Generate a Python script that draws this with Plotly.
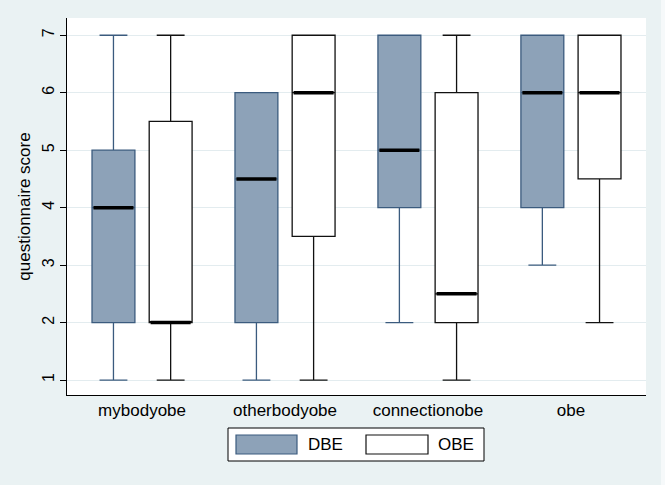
import plotly.graph_objects as go

categories = ["mybodyobe", "otherbodyobe", "connectionobe", "obe"]
series = ["DBE", "OBE"]

# box statistics per series: lower whisker, q1, median, q3, upper whisker
dbe_low = [1, 1, 2, 3]
dbe_q1 = [2, 2, 4, 4]
dbe_med = [4, 4.5, 5, 6]
dbe_q3 = [5, 6, 7, 7]
dbe_up = [7, 6, 7, 7]

obe_low = [1, 1, 1, 2]
obe_q1 = [2, 3.5, 2, 4.5]
obe_med = [2, 6, 2.5, 6]
obe_q3 = [5.5, 7, 6, 7]
obe_up = [7, 7, 7, 7]

y_ticks = [1, 2, 3, 4, 5, 6, 7]

BG = "#EAF2F3"
DBE_FILL = "#8DA2B8"
DBE_LINE = "#3B5B7E"
OBE_FILL = "#FFFFFF"
OBE_LINE = "#111111"

offset = 0.2
bw = 0.30
idx = list(range(len(categories)))

fig = go.Figure()

specs = [
    ("DBE", -offset, dbe_low, dbe_q1, dbe_med, dbe_q3, dbe_up, DBE_FILL, DBE_LINE),
    ("OBE", offset, obe_low, obe_q1, obe_med, obe_q3, obe_up, OBE_FILL, OBE_LINE),
]

for name, off, lo, q1, med, q3, up, fill, line in specs:
    xs = [i + off for i in idx]
    fig.add_trace(go.Box(
        name=name, x=xs, lowerfence=lo, q1=q1, median=med, q3=q3, upperfence=up,
        width=bw, whiskerwidth=0.65, fillcolor=fill,
        line=dict(color=line, width=1.3), boxpoints=False, showlegend=False,
        hoverinfo="skip",
    ))
    # thick median lines
    mx, my = [], []
    for x, m in zip(xs, med):
        mx += [x - bw / 2 + 0.01, x + bw / 2 - 0.01, None]
        my += [m, m, None]
    fig.add_trace(go.Scatter(x=mx, y=my, mode="lines",
                             line=dict(color="#000000", width=3.5),
                             showlegend=False, hoverinfo="skip"))

# custom Stata-like legend
L, R, T, B = 67, 19, 18, 90
W, H = 665, 485
pw, ph = W - L - R, H - T - B

def px(x):
    return (x - L) / pw

def py(y):
    return (H - B - y) / ph

shapes = [
    dict(type="rect", xref="paper", yref="paper", x0=px(661), x1=px(666), y0=py(486), y1=py(-1),
         fillcolor="#F6F9FA", line=dict(width=0), layer="below"),
    dict(type="rect", xref="paper", yref="paper", x0=px(228), x1=px(484), y0=py(428), y1=py(461),
         fillcolor="#FFFFFF", line=dict(color="#000000", width=1)),
    dict(type="rect", xref="paper", yref="paper", x0=px(236), x1=px(297), y0=py(435), y1=py(454),
         fillcolor=DBE_FILL, line=dict(color=DBE_LINE, width=1.2)),
    dict(type="rect", xref="paper", yref="paper", x0=px(366), x1=px(428), y0=py(435), y1=py(454),
         fillcolor=OBE_FILL, line=dict(color=OBE_LINE, width=1.2)),
]
annotations = [
    dict(text=series[0], xref="paper", yref="paper", x=px(306), y=py(444.5), xanchor="left",
         yanchor="middle", showarrow=False, font=dict(size=17, color="#000000")),
    dict(text=series[1], xref="paper", yref="paper", x=px(436), y=py(444.5), xanchor="left",
         yanchor="middle", showarrow=False, font=dict(size=17, color="#000000")),
]

fig.update_layout(
    width=W, height=H,
    margin=dict(l=L, r=R, t=T, b=B),
    paper_bgcolor=BG, plot_bgcolor="#FFFFFF",
    font=dict(family="Liberation Sans, Arial, sans-serif", size=15, color="#000000"),
    shapes=shapes, annotations=annotations,
    showlegend=False,
)
fig.update_xaxes(
    tickmode="array", tickvals=idx, ticktext=categories,
    range=[-0.525, 3.525], showgrid=False, zeroline=False,
    showline=True, linecolor="#000000", linewidth=1,
    ticks="", tickfont=dict(size=17),
)
fig.update_yaxes(
    tickmode="array", tickvals=y_ticks, ticktext=[str(v) for v in y_ticks],
    range=[0.74, 7.3], showgrid=True, gridcolor="#E3ECEF", gridwidth=1,
    zeroline=False, showline=True, linecolor="#000000", linewidth=1,
    ticks="outside", ticklen=6, tickcolor="#000000", tickangle=-90,
    tickfont=dict(size=16),
    title=dict(text="questionnaire score", font=dict(size=17), standoff=4),
)

fig.write_html("out.html", config={"displayModeBar": False},
               post_script="document.body.style.margin='0';")
